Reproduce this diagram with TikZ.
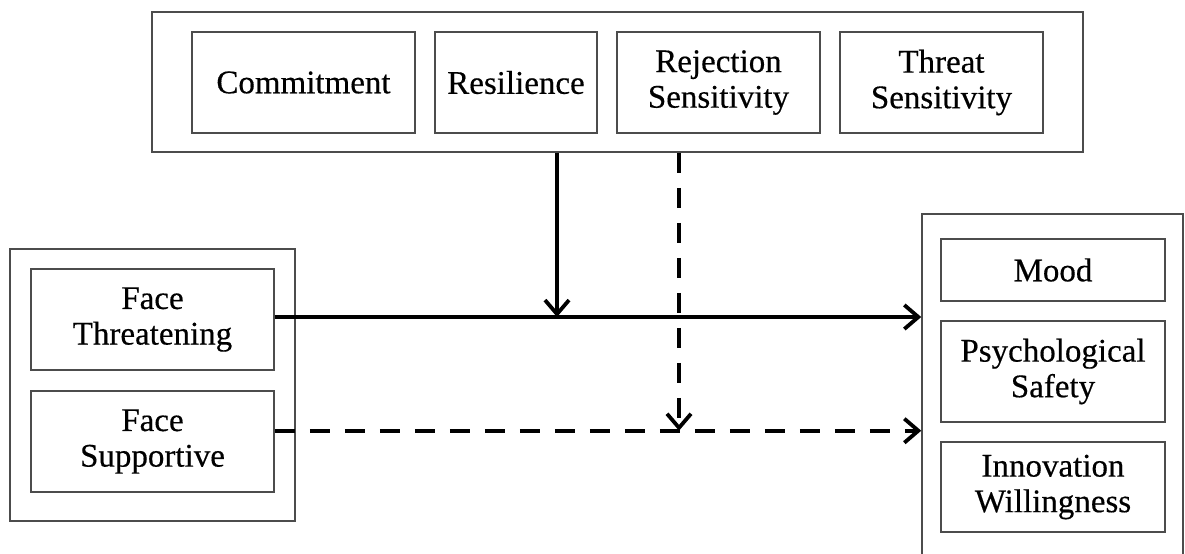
\documentclass[tikz,border=0pt]{standalone}
\usepackage{fontspec}
\setmainfont{Liberation Serif}[FakeBold=0.4]
\usetikzlibrary{arrows.meta}
\begin{document}
\begin{tikzpicture}[x=0.5pt,y=-0.5pt,
  frame/.style={draw=black!70, line width=0.75pt, rectangle, inner sep=0pt},
  var/.style={frame, align=center, font=\fontsize{16.5}{17.8}\selectfont},
  link/.style={line width=1.9pt, -{Straight Barb[length=7pt,width=12pt,line width=1.9pt]}},
  dashlink/.style={link, dash pattern=on 10pt off 7.5pt}]
\useasboundingbox (0,0) rectangle (1185,553);
% moderators
\node[frame, minimum width=465.5pt, minimum height=70pt] (mod) at (617.5,82) {};
\node[var, minimum width=111.5pt, minimum height=50.5pt] (com) at (303.5,82.5) {Commitment};
\node[var, minimum width=81pt, minimum height=50.5pt] (res) at (516,82.5) {Resilience};
\node[var, minimum width=101.5pt, minimum height=50.5pt] (rej) at (718.5,82.5) {Rejection\\Sensitivity};
\node[var, minimum width=101.5pt, minimum height=50.5pt] (thr) at (941.5,82.5) {Threat\\Sensitivity};
% predictors
\node[frame, minimum width=142.5pt, minimum height=136pt] (pred) at (152.5,385) {};
\node[var, minimum width=121.5pt, minimum height=50.5pt] (ft) at (152.5,319.5) {Face\\Threatening};
\node[var, minimum width=121.5pt, minimum height=50.5pt] (fs) at (152.5,441.5) {Face\\Supportive};
% outcomes
\node[frame, minimum width=130.5pt, minimum height=174pt] (out) at (1052.5,388) {};
\node[var, minimum width=112pt, minimum height=31pt] (mood) at (1053,270) {Mood};
\node[var, minimum width=112pt, minimum height=50.5pt] (psy) at (1053,371.5) {Psychological\\Safety};
\node[var, minimum width=112pt, minimum height=45pt] (inn) at (1053,487) {Innovation\\Willingness};
% paths
\coordinate (a) at ([yshift=1.25pt]ft.east);
\coordinate (b) at ([yshift=5.4pt]fs.east);
\coordinate (ma) at (557,0);
\coordinate (mb) at (679,0);
\draw[link] (a) -- (a -| out.west);
\draw[dashlink] (b) -- (b -| out.west);
\draw[link] (ma |- mod.south) -- (ma |- a);
\draw[dashlink] (mb |- mod.south) -- (mb |- b);
\end{tikzpicture}
\end{document}
